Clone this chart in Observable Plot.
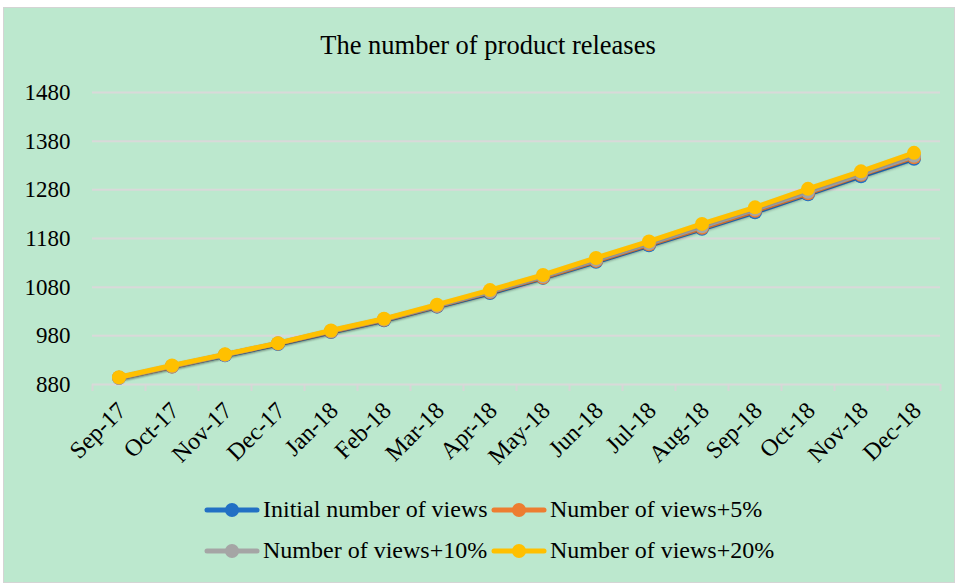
<!DOCTYPE html>
<html>
<head>
<meta charset="utf-8">
<script src="https://cdn.jsdelivr.net/npm/d3@7"></script>
<script src="https://cdn.jsdelivr.net/npm/@observablehq/plot@0.6"></script>
<style>
  body { margin: 0; background: #ffffff; width: 957px; height: 585px; overflow: hidden; position: relative; font-family: "Liberation Serif", "Times New Roman", serif; }
  #frame { position: absolute; left: 3px; top: 7px; width: 952px; height: 576px; background: #bce8ce; border: 1px solid #d4d4d4; box-sizing: border-box; }
  #title { position: absolute; left: 0; top: 32px; width: 976px; text-align: center; font-size: 26.5px; line-height: 26px; color: #000; }
  #chart { position: absolute; left: 0; top: 0; }
  #chart svg g[aria-label="line"] { filter: drop-shadow(1px 1.5px 1px rgba(0,0,0,0.15)); }
  .lg { position: absolute; font-size: 24px; line-height: 24px; color: #000; white-space: nowrap; }
</style>
</head>
<body>
<div id="frame"></div>
<div id="title">The number of product releases</div>
<div id="chart"></div>
<div id="legend"></div>
<script>
const months = ["Sep-17","Oct-17","Nov-17","Dec-17","Jan-18","Feb-18","Mar-18","Apr-18","May-18","Jun-18","Jul-18","Aug-18","Sep-18","Oct-18","Nov-18","Dec-18"];
const initialViews = [894, 917, 940, 963, 988, 1012, 1040, 1068, 1099, 1132, 1166, 1200, 1234, 1271, 1308, 1344];
const views5 = [894, 917, 941, 964, 989, 1013, 1041, 1070, 1100, 1134, 1168, 1202, 1237, 1273, 1311, 1347];
const views10 = [894, 918, 941, 965, 990, 1014, 1042, 1071, 1102, 1136, 1170, 1205, 1240, 1276, 1313, 1350];
const views20 = [895, 919, 942, 965, 991, 1015, 1044, 1074, 1105, 1140, 1174, 1210, 1244, 1282, 1318, 1356];
const seriesNames = ["Initial number of views", "Number of views+5%", "Number of views+10%", "Number of views+20%"];
const seriesValues = [initialViews, views5, views10, views20];
const seriesColors = ["#2270c4", "#ed7d31", "#a5a5a5", "#ffc000"];
const yTicks = [880, 980, 1080, 1180, 1280, 1380, 1480];

const data = seriesNames.flatMap((name, s) => seriesValues[s].map((v, i) => ({series: name, i, value: v})));
const boundaries = d3.range(months.length + 1).map(i => i - 0.5);

const marks = [
  Plot.ruleY(yTicks.slice(1), {stroke: "#d9d9d9", strokeWidth: 2}),
  Plot.axisX(boundaries, {tickSize: 7, tickFormat: () => "", stroke: "#d6d6d6", strokeWidth: 2, label: null}),
  Plot.ruleY([yTicks[0]], {stroke: "#d9d9d9", strokeWidth: 2}),
  Plot.axisX(d3.range(months.length), {tickSize: 0, tickFormat: i => months[i], tickRotate: -45, tickPadding: 22, dx: 3, fontSize: 24, fill: "#000", label: null}),
  Plot.axisY(yTicks, {tickSize: 0, tickPadding: 22, tickFormat: d3.format("d"), fontSize: 23, fill: "#000", label: null})
];
seriesNames.forEach(name => {
  const d = data.filter(r => r.series === name);
  marks.push(Plot.line(d, {x: "i", y: "value", stroke: "series", strokeWidth: 5}));
  marks.push(Plot.dot(d, {x: "i", y: "value", fill: "series", r: 7}));
});

const chart = Plot.plot({
  width: 957,
  height: 470,
  marginLeft: 92,
  marginRight: 17,
  marginTop: 92,
  marginBottom: 86,
  x: {type: "linear", domain: [-0.5, months.length - 0.5], axis: null},
  y: {domain: [yTicks[0], yTicks[yTicks.length - 1]], axis: null},
  color: {domain: seriesNames, range: seriesColors},
  style: {background: "transparent", fontFamily: "'Liberation Serif', 'Times New Roman', serif", fontSize: "23px", color: "#000", overflow: "visible"},
  marks
});
document.getElementById("chart").appendChild(chart);

// Legend
const legendPos = [[205, 510], [492, 510], [205, 551], [492, 551]];
const legend = document.getElementById("legend");
seriesNames.forEach((name, s) => {
  const [lx, ly] = legendPos[s];
  const sw = document.createElementNS("http://www.w3.org/2000/svg", "svg");
  sw.setAttribute("width", 56); sw.setAttribute("height", 18);
  sw.style.position = "absolute"; sw.style.left = (lx - 1) + "px"; sw.style.top = (ly - 9) + "px";
  sw.innerHTML = `<line x1="3" x2="53" y1="9" y2="9" stroke="${seriesColors[s]}" stroke-width="5" stroke-linecap="round"/><circle cx="28" cy="9" r="7" fill="${seriesColors[s]}"/>`;
  legend.appendChild(sw);
  const t = document.createElement("div");
  t.className = "lg"; t.textContent = name;
  t.style.left = (lx + 58) + "px"; t.style.top = (ly - 13) + "px";
  legend.appendChild(t);
});
</script>
</body>
</html>
